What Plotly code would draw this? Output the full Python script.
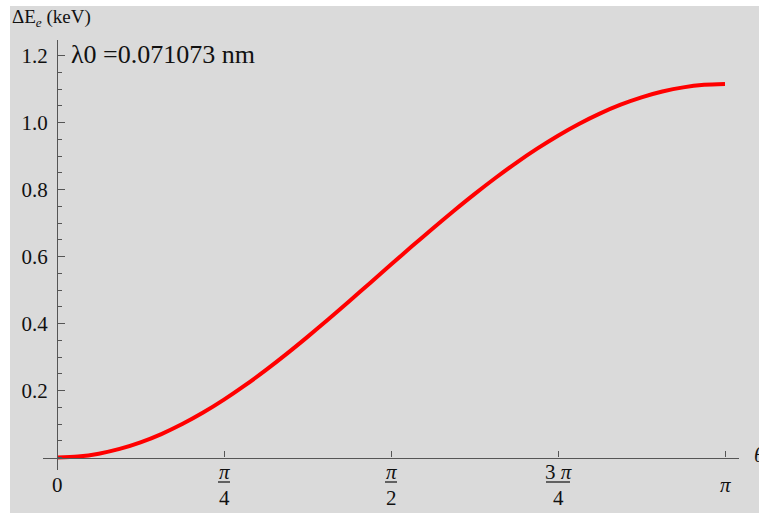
import numpy as np
import plotly.graph_objects as go

# Compton scattering: kinetic energy given to the electron vs. photon scattering angle
angle_deg = [0, 5.625, 11.25, 16.875, 22.5, 28.125, 33.75, 39.375, 45,
             50.625, 56.25, 61.875, 67.5, 73.125, 78.75, 84.375, 90,
             95.625, 101.25, 106.875, 112.5, 118.125, 123.75, 129.375, 135,
             140.625, 146.25, 151.875, 157.5, 163.125, 168.75, 174.375, 180]
delta_e_kev = [0.0, 0.0029, 0.0114, 0.0256, 0.0452, 0.0700, 0.0998, 0.1341, 0.1727,
               0.2151, 0.2607, 0.3092, 0.3600, 0.4127, 0.4665, 0.5211, 0.5759,
               0.6303, 0.6838, 0.7360, 0.7863, 0.8344, 0.8797, 0.9219, 0.9607,
               0.9956, 1.0265, 1.0531, 1.0751, 1.0924, 1.1049, 1.1124, 1.1149]

y_tick_vals = [0.2, 0.4, 0.6, 0.8, 1.0, 1.2]
y_tick_text = ["0.2", "0.4", "0.6", "0.8", "1.0", "1.2"]
x_tick_vals = [0, np.pi / 4, np.pi / 2, 3 * np.pi / 4, np.pi]
x_tick_num = ["0", "<i>π</i>", "<i>π</i>", "3 <i>π</i>", "<i>π</i>"]
x_tick_den = [None, "4", "2", "4", None]
x_tick_bar = [0, 6, 6, 12, 0]   # half-width of each fraction bar, px

W, H = 759, 513
M_L, M_R, M_T, M_B = 43, 20, 40, 43
X_RANGE = [-0.06584, 3.20743]
Y_RANGE = [-0.03731, 1.24627]
BG = "#dadada"
AXC = "#555555"
SERIF = "Liberation Serif"
INK = "#111111"

plot_h = H - M_T - M_B
plot_w = W - M_L - M_R


def py(pix):
    """paper y for a pixel row"""
    return (H - M_B - pix) / plot_h


def px(pix):
    """paper x for a pixel column"""
    return (pix - M_L) / plot_w


theta = np.deg2rad(angle_deg)

fig = go.Figure()
fig.add_trace(go.Scatter(
    x=theta, y=delta_e_kev, mode="lines",
    line=dict(color="#ff0000", width=4, shape="spline", smoothing=0.8),
    hoverinfo="skip", showlegend=False,
))

x_axis_pos = (0 - Y_RANGE[0]) / (Y_RANGE[1] - Y_RANGE[0])
y_axis_pos = (0 - X_RANGE[0]) / (X_RANGE[1] - X_RANGE[0])

fig.update_layout(
    width=W, height=H, autosize=False,
    margin=dict(l=M_L, r=M_R, t=M_T, b=M_B, pad=0),
    paper_bgcolor="white", plot_bgcolor=BG,
    font=dict(family=SERIF, color=INK, size=20),
    xaxis=dict(
        range=X_RANGE, showgrid=False, zeroline=False,
        showline=True, linecolor=AXC, linewidth=1.3,
        anchor="free", position=x_axis_pos,
        tickmode="array", tickvals=x_tick_vals[1:],
        ticks="inside", ticklen=6, tickwidth=1.3, tickcolor=AXC,
        showticklabels=False,
    ),
    yaxis=dict(
        range=Y_RANGE, showgrid=False, zeroline=False,
        showline=True, linecolor=AXC, linewidth=1.3,
        anchor="free", position=y_axis_pos,
        tickmode="array", tickvals=y_tick_vals, ticktext=y_tick_text,
        ticks="inside", ticklen=7, tickwidth=1.3, tickcolor=AXC,
        minor=dict(dtick=0.05, tick0=0, ticks="inside", ticklen=4,
                   tickwidth=1.1, tickcolor=AXC, showgrid=False),
        tickfont=dict(family=SERIF, size=21, color=INK),
        ticklabelstandoff=5,
    ),
)

# grey panel behind the whole chart
fig.add_shape(type="rect", xref="paper", yref="paper",
              x0=px(10), x1=px(W + 5), y0=py(H + 5), y1=py(6),
              fillcolor=BG, line=dict(width=0), layer="below")

# x tick labels, stacked fractions of π
for xv, num, den, half in zip(x_tick_vals, x_tick_num, x_tick_den, x_tick_bar):
    if den is None:
        fig.add_annotation(x=xv, xref="x", y=py(485), yref="paper",
                           text=num, showarrow=False, xanchor="center",
                           yanchor="middle", font=dict(family=SERIF, size=21, color=INK))
    else:
        fig.add_annotation(x=xv, xref="x", y=py(472), yref="paper",
                           text=num, showarrow=False, xanchor="center",
                           yanchor="middle", font=dict(family=SERIF, size=21, color=INK))
        fig.add_shape(type="line", xref="x", yref="paper",
                      xsizemode="pixel", xanchor=xv, x0=-half, x1=half,
                      y0=py(482), y1=py(482),
                      line=dict(color=INK, width=1.2))
        fig.add_annotation(x=xv, xref="x", y=py(498), yref="paper",
                           text=den, showarrow=False, xanchor="center",
                           yanchor="middle", font=dict(family=SERIF, size=21, color=INK))

# axis titles
fig.add_annotation(x=px(10), xref="paper", y=py(18), yref="paper",
                   text="ΔE<sub><i>e</i></sub> (keV)", showarrow=False,
                   xanchor="left", yanchor="middle",
                   font=dict(family=SERIF, size=19, color=INK))
fig.add_annotation(x=px(752), xref="paper", y=py(455), yref="paper",
                   text="<i>θ</i>", showarrow=False,
                   xanchor="left", yanchor="middle",
                   font=dict(family=SERIF, size=21, color=INK))

# incident wavelength
fig.add_annotation(x=px(69), xref="paper", y=py(55), yref="paper",
                   text="λ0 =0.071073 nm", showarrow=False,
                   xanchor="left", yanchor="middle",
                   font=dict(family=SERIF, size=26, color=INK))

fig.write_html("out.html")
